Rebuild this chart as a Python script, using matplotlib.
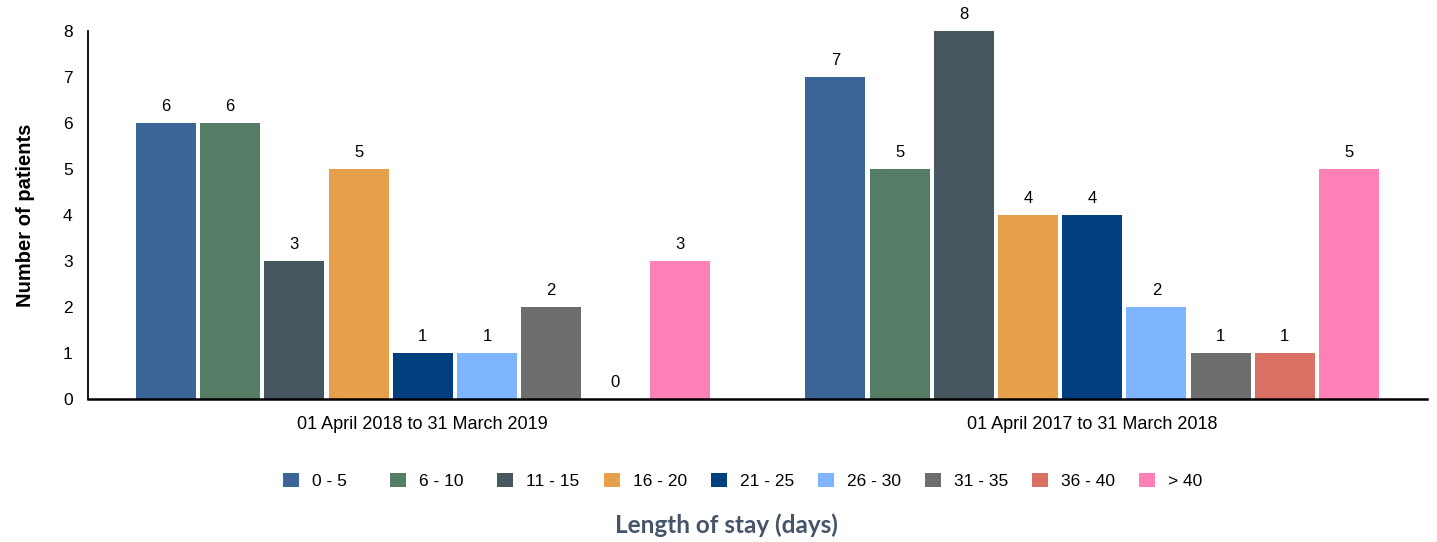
import matplotlib
matplotlib.use("Agg")
import matplotlib.pyplot as plt
from matplotlib.patches import Patch
import numpy as np

periods = ["01 April 2018 to 31 March 2019", "01 April 2017 to 31 March 2018"]
stay_bins = ["0 - 5", "6 - 10", "11 - 15", "16 - 20", "21 - 25", "26 - 30", "31 - 35", "36 - 40", "> 40"]
values_2018_19 = [6, 6, 3, 5, 1, 1, 2, 0, 3]
values_2017_18 = [7, 5, 8, 4, 4, 2, 1, 1, 5]
colors = ["#3A6596", "#557C65", "#46575F", "#E69F4A", "#023F7F", "#7FB5FE", "#6D6D6D", "#DA6F64", "#FF7FB7"]
y_ticks = [0, 1, 2, 3, 4, 5, 6, 7, 8]

plt.rcParams['font.family'] = ['Liberation Sans', 'DejaVu Sans']

W, H = 1437, 542
fig = plt.figure(figsize=(W / 100, H / 100), dpi=100)
ax = fig.add_axes([88 / W, 1 - 399 / H, (1427 - 88) / W, (399 - 31) / H])

data = np.array([values_2018_19, values_2017_18])
x = np.arange(len(periods))
n = len(stay_bins)
step = 0.0959
width = 0.0896
for i in range(n):
    pos = x + (i - (n - 1) / 2) * step
    vals = data[:, i]
    ax.bar(pos, vals, width=width, color=colors[i], label=stay_bins[i], zorder=2)
    for p, v in zip(pos, vals):
        ax.text(p, v + 0.2, str(v), ha="center", va="bottom", fontsize=12, color="#000000")

ax.set_xlim(-0.5, 1.5)
ax.set_ylim(0, 8)
ax.set_yticks(y_ticks)
ax.set_xticks(x)
ax.set_xticklabels(periods, fontsize=13)
ax.tick_params(axis="y", length=0, pad=11, labelsize=12.5)
ax.tick_params(axis="x", length=0, pad=12.5)
for s in ["top", "right"]:
    ax.spines[s].set_visible(False)
ax.spines["left"].set_linewidth(1.3)
ax.spines["bottom"].set_linewidth(1.8)
ax.set_ylabel("Number of patients", fontsize=14.5, fontweight="bold", labelpad=20)

# legend: one entry per slot so the slots are evenly spaced, as in the reference
for i, (lab, c) in enumerate(zip(stay_bins, colors)):
    leg = fig.legend([Patch(facecolor=c, edgecolor="none")], [lab], loc="center left",
                     bbox_to_anchor=((283 + i * 107) / W, 1 - 481 / H), frameon=False,
                     fontsize=12.5, handlelength=0.92, handleheight=0.86, handletextpad=0.75,
                     borderpad=0, borderaxespad=0)

fig.text(726 / W, 1 - 525 / H, "Length of stay (days)", ha="center", va="center", fontsize=17.5,
         fontweight="bold", color="#44546A", family=["Lato", "DejaVu Sans"])

fig.savefig("out.png", dpi=100)
